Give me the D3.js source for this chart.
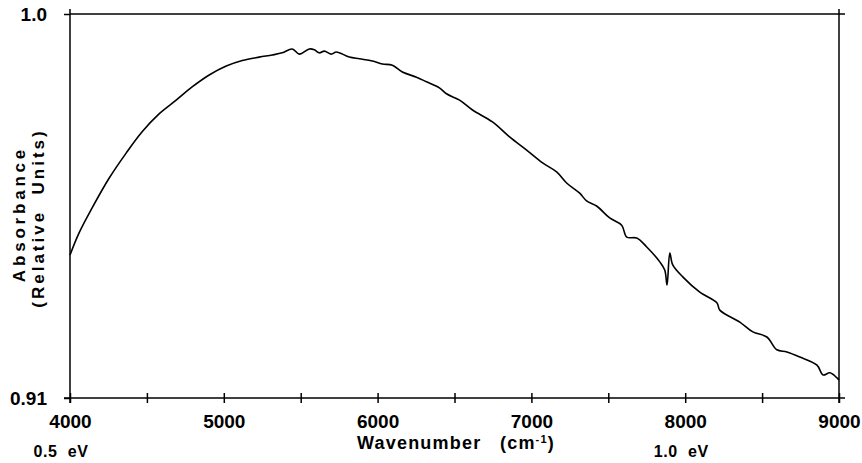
<!DOCTYPE html>
<html>
<head>
<meta charset="utf-8">
<script src="https://cdn.jsdelivr.net/npm/d3@7"></script>
<style>
  body { margin: 0; background: #fff; }
  svg text { font-family: "Liberation Sans", Arial, sans-serif; font-weight: bold; fill: #000; }
</style>
</head>
<body>
<svg id="chart" width="862" height="463"></svg>
<script>
// spectrum: wavenumber (cm-1) and absorbance (relative units)
const wavenumber = [4000, 4059, 4143, 4254, 4365, 4469, 4579, 4690, 4794, 4905,
  5016, 5120, 5230, 5315, 5380, 5445, 5491, 5556, 5589, 5621,
  5654, 5699, 5732, 5816, 5882, 5966, 6031, 6096, 6161, 6253,
  6318, 6402, 6448, 6533, 6617, 6747, 6858, 6969, 7073, 7164,
  7229, 7314, 7359, 7424, 7509, 7587, 7620, 7685, 7750, 7835,
  7867, 7882, 7900, 7919, 7984, 8095, 8206, 8225, 8355, 8440,
  8531, 8596, 8661, 8746, 8857, 8896, 8941, 8987, 9000];
const absorbance = [0.9435, 0.9487, 0.9545, 0.9615, 0.9674, 0.9724, 0.9766, 0.9798, 0.9829, 0.9857,
  0.9878, 0.9891, 0.9899, 0.9904, 0.9909, 0.9918, 0.9906, 0.9918, 0.9916, 0.9909,
  0.9913, 0.9906, 0.9911, 0.9899, 0.9895, 0.9890, 0.9883, 0.9880, 0.9864, 0.9852,
  0.9841, 0.9827, 0.9813, 0.9798, 0.9775, 0.9747, 0.9712, 0.9681, 0.9651, 0.9630,
  0.9604, 0.9580, 0.9562, 0.9550, 0.9522, 0.9505, 0.9477, 0.9475, 0.9454, 0.9419,
  0.9400, 0.9365, 0.9440, 0.9412, 0.9384, 0.9348, 0.9323, 0.9306, 0.9278, 0.9255,
  0.9243, 0.9213, 0.9208, 0.9196, 0.9177, 0.9154, 0.9159, 0.9147, 0.9142];

const xTicks = [4000, 4500, 5000, 5500, 6000, 6500, 7000, 7500, 8000, 8500, 9000];
const xTickLabels = ['4000', '', '5000', '', '6000', '', '7000', '', '8000', '', '9000'];
const yTicks = [0.91, 1.0];
const yTickLabels = ['0.91', '1.0'];
const energyValues = [0.5, 1.0];
const energyLabels = ['0.5  eV', '1.0  eV'];
const cmPerEv = 8065.5;

const svg = d3.select('#chart');
const plotLeft = 70, plotRight = 839, plotTop = 14, plotBottom = 398;

const x = d3.scaleLinear().domain([4000, 9000]).range([plotLeft, plotRight]);
const y = d3.scaleLinear().domain([0.91, 1.0]).range([plotBottom, plotTop]);

const data = wavenumber.map((w, i) => ({ w, a: absorbance[i] }));

// frame with small overshoot at the corners
const frame = svg.append('g').attr('stroke', '#000').attr('stroke-width', 1.5);
frame.append('line').attr('x1', x(4000)).attr('x2', x(4000)).attr('y1', y(0.91) + 5).attr('y2', y(1.0) - 5);
frame.append('line').attr('x1', x(9000)).attr('x2', x(9000)).attr('y1', y(0.91) + 5).attr('y2', y(1.0) - 5);
frame.append('line').attr('x1', x(4000)).attr('x2', x(9000) + 6).attr('y1', y(1.0)).attr('y2', y(1.0));

// bottom axis, ticks cross the line
const xAxis = svg.append('g')
  .attr('transform', `translate(0, ${plotBottom})`)
  .call(d3.axisBottom(x).tickValues(xTicks).tickSize(5).tickFormat((d, i) => xTickLabels[i]));
xAxis.select('.domain').remove();
xAxis.insert('line', ':first-child')
  .attr('x1', x(4000) - 6).attr('x2', x(9000) + 6)
  .attr('stroke', '#000').attr('stroke-width', 1.5);
xAxis.selectAll('.tick line').attr('y1', -5).attr('y2', 5).attr('stroke-width', 1.5);
xAxis.selectAll('.tick text')
  .attr('y', 30).attr('dy', null)
  .style('font-size', '19px');

// left axis, only the two end values
const yAxis = svg.append('g')
  .attr('transform', `translate(${plotLeft}, 0)`)
  .call(d3.axisLeft(y).tickValues(yTicks).tickSize(6).tickFormat((d, i) => yTickLabels[i]));
yAxis.select('.domain').remove();
yAxis.selectAll('.tick line').attr('stroke-width', 1.5);
yAxis.selectAll('.tick text')
  .attr('x', -23).attr('dy', '0.35em')
  .style('font-size', '19px');

// spectrum
svg.append('path')
  .datum(data)
  .attr('fill', 'none')
  .attr('stroke', '#000')
  .attr('stroke-width', 1.6)
  .attr('stroke-linejoin', 'round')
  .attr('d', d3.line().x(d => x(d.w)).y(d => y(d.a)).curve(d3.curveCatmullRom.alpha(0.5)));

// x axis title
const xt = svg.append('text')
  .attr('x', 456).attr('y', 449)
  .attr('text-anchor', 'middle')
  .style('font-size', '18px')
  .style('letter-spacing', '1.2px')
  .attr('xml:space', 'preserve');
xt.append('tspan').text('Wavenumber   (cm');
xt.append('tspan').attr('dy', -6).style('font-size', '11px').text('-1');
xt.append('tspan').attr('dy', 6).text(')');

// energy markers under the axis
svg.selectAll('.energy')
  .data(energyValues)
  .enter()
  .append('text')
  .attr('class', 'energy')
  .attr('x', d => x(d * cmPerEv) - 14)
  .attr('y', 457)
  .attr('text-anchor', 'middle')
  .attr('xml:space', 'preserve')
  .style('font-size', '16px')
  .style('letter-spacing', '0.6px')
  .text((d, i) => energyLabels[i]);

// y axis title, two lines
svg.append('text')
  .attr('transform', 'translate(25, 214) rotate(-90)')
  .attr('text-anchor', 'middle')
  .style('font-size', '17px')
  .style('letter-spacing', '3.8px')
  .text('Absorbance');
svg.append('text')
  .attr('transform', 'translate(44, 218) rotate(-90)')
  .attr('text-anchor', 'middle')
  .attr('xml:space', 'preserve')
  .style('font-size', '17px')
  .style('letter-spacing', '3px')
  .text('(Relative  Units)');
</script>
</body>
</html>
